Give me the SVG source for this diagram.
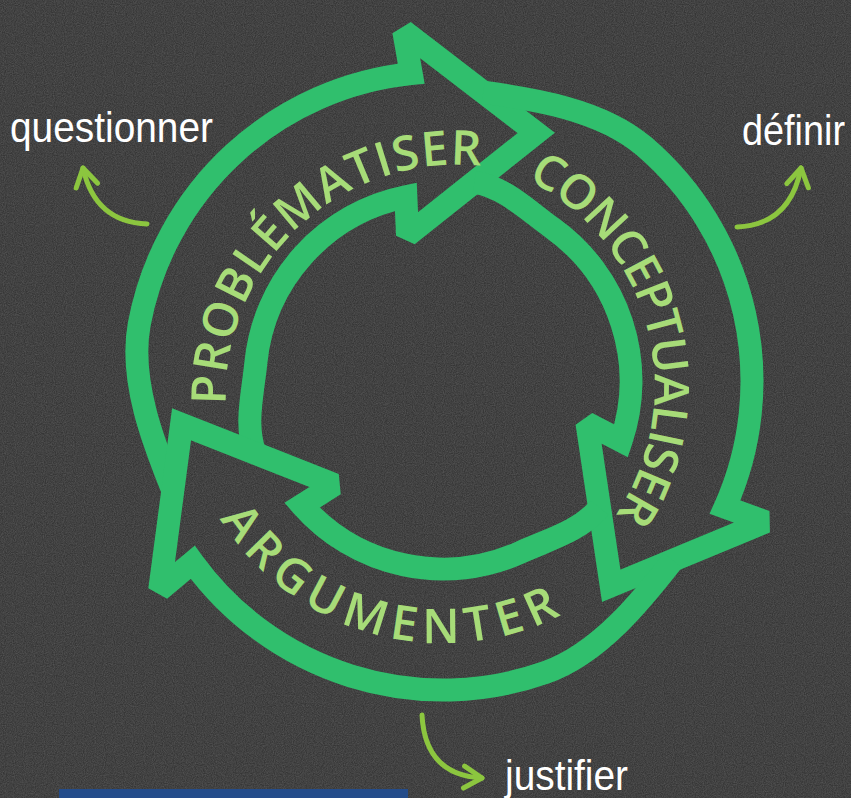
<svg xmlns="http://www.w3.org/2000/svg" xmlns:xlink="http://www.w3.org/1999/xlink" width="851" height="798" viewBox="0 0 851 798">
<style>
.ring{fill:none;stroke:#30bf6d;stroke-width:23;stroke-linejoin:miter;stroke-miterlimit:2}
.rt{font-family:"Open Sans","Noto Sans",sans-serif;font-size:48px;font-weight:600;fill:#a7dc78}
.lbl{font-family:"Liberation Sans",Arial,sans-serif;font-size:42px;fill:#ffffff}
.conn{fill:none;stroke:#8cc63f;stroke-width:5;stroke-linecap:round}
</style>
<defs>
<filter id="grain" x="0" y="0" width="100%" height="100%">
<feTurbulence type="fractalNoise" baseFrequency="0.9" numOctaves="2" seed="4"/>
<feColorMatrix type="matrix" values="0 0 0 0 1  0 0 0 0 1  0 0 0 0 1  0.22 0 0 0 -0.05"/>
</filter>
<marker id="chev" viewBox="-25 -15 30 30" refX="0" refY="0" markerWidth="30" markerHeight="30" markerUnits="userSpaceOnUse" orient="auto" overflow="visible">
<path d="M-18,-11 L0,0 L-18,11" fill="none" stroke="#8cc63f" stroke-width="5" stroke-linecap="round" stroke-linejoin="round"/>
</marker>
<path id="arrowShape" d="M-133.8,-150.5 C-111.4,-170.4 -77.7,-173.8 -48.7,-181.6 A188,188 0 0 1 159.4,-99.6 L123.9,-84.5 L265,0 L313.6,-159.8 L276.5,-137.9 A309,309 0 0 0 -53.7,-304.3 C-109.8,-294.4 -160.8,-248.3 -197.6,-214.4"/>
<path id="tp1" d="M287.8,553.4 A231,231 0 1 1 625.8,238.2"/>
<path id="tp2" d="M363.7,163 A231,231 0 1 1 483.3,609.5"/>
<path id="tp3" d="M196.8,291.4 A262,262 0 1 0 701,426.5"/>
</defs>
<rect x="0" y="0" width="851" height="798" fill="#363636"/>
<rect x="0" y="0" width="851" height="798" filter="url(#grain)"/>
<rect x="59" y="789" width="349" height="9" fill="#244c8a"/>

<g id="problematiser">
<use href="#arrowShape" class="ring" transform="translate(443 381) rotate(-69.4)"/>
<text class="rt" letter-spacing="1"><textPath href="#tp1" startOffset="50%" text-anchor="middle">PROBLÉMATISER</textPath></text>
</g>
<g id="conceptualiser">
<use href="#arrowShape" class="ring" transform="translate(443 381) rotate(50.6)"/>
<text class="rt" letter-spacing="-1.5"><textPath href="#tp2" startOffset="50%" text-anchor="middle">CONCEPTUALISER</textPath></text>
</g>
<g id="argumenter">
<use href="#arrowShape" class="ring" transform="translate(443 381) rotate(170.6)"/>
<text class="rt" letter-spacing="7"><textPath href="#tp3" startOffset="50%" text-anchor="middle">ARGUMENTER</textPath></text>
</g>

<g id="questionner"><text class="lbl" x="10" y="142" textLength="203" lengthAdjust="spacingAndGlyphs">questionner</text></g>
<g id="definir"><text class="lbl" x="742" y="145" textLength="103" lengthAdjust="spacingAndGlyphs">définir</text></g>
<g id="justifier"><text class="lbl" x="505" y="790" textLength="123" lengthAdjust="spacingAndGlyphs">justifier</text></g>

<g id="connectors">
<path class="conn" d="M147,224 Q95,222 83,168" marker-end="url(#chev)"/>
<path class="conn" d="M737,227 Q790,225 801,168" marker-end="url(#chev)"/>
<path class="conn" d="M422,715 Q425,775 482,778" marker-end="url(#chev)"/>
</g>
</svg>
